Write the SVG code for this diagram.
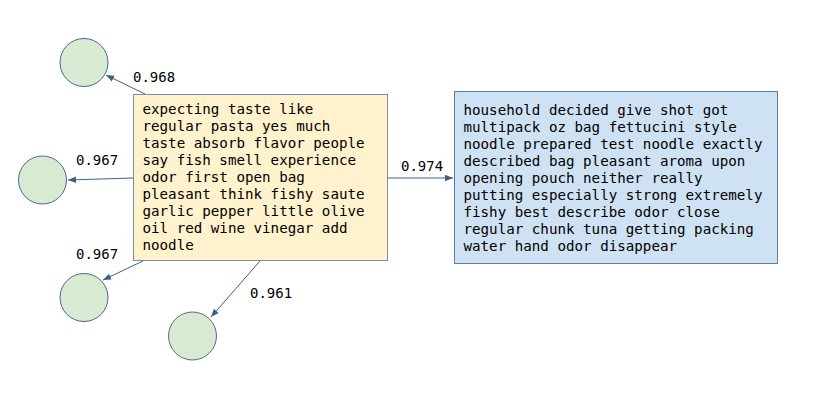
<svg xmlns="http://www.w3.org/2000/svg" width="813" height="401" viewBox="0 0 813 401">
<defs>
<style>
.t{font-family:"DejaVu Sans Mono","Liberation Mono",monospace;font-size:14.2px;fill:#000}
.lbl{font-family:"DejaVu Sans Mono","Liberation Mono",monospace;font-size:14px;fill:#000}
.c{fill:#d9ead3;stroke:#4a6a8a;stroke-width:1}
.e{stroke:#3f5f8a;stroke-width:1;fill:none;marker-end:url(#ah)}
</style>
<marker id="ah" viewBox="0 0 10 10" refX="10" refY="5" markerWidth="8" markerHeight="8" markerUnits="userSpaceOnUse" orient="auto">
<path d="M0,1 L10,5 L0,9 z" fill="#3f5f8a"/>
</marker>
</defs>
<rect width="813" height="401" fill="#fff"/>
<g id="connectors">
<line class="e" x1="145" y1="94" x2="106" y2="75"/>
<line class="e" x1="133" y1="178" x2="68" y2="180"/>
<line class="e" x1="145" y1="260" x2="103" y2="280"/>
<line class="e" x1="260" y1="261" x2="211" y2="317"/>
<line class="e" x1="388" y1="178" x2="453" y2="178"/>
<text class="lbl" x="133" y="82">0.968</text>
<text class="lbl" x="76" y="165">0.967</text>
<text class="lbl" x="76" y="259">0.967</text>
<text class="lbl" x="250" y="298">0.961</text>
<text class="lbl" x="401" y="171">0.974</text>
</g>
<g id="src">
<rect x="133.5" y="94.5" width="254" height="166" fill="#fff2cc" stroke="#7f8ea3"/>
<text class="t" x="142.5" y="114">expecting taste like</text>
<text class="t" x="142.5" y="131">regular pasta yes much</text>
<text class="t" x="142.5" y="148">taste absorb flavor people</text>
<text class="t" x="142.5" y="165">say fish smell experience</text>
<text class="t" x="142.5" y="182">odor first open bag</text>
<text class="t" x="142.5" y="199">pleasant think fishy saute</text>
<text class="t" x="142.5" y="216">garlic pepper little olive</text>
<text class="t" x="142.5" y="233">oil red wine vinegar add</text>
<text class="t" x="142.5" y="250">noodle</text>
</g>
<g id="dst">
<rect x="454.5" y="91.5" width="323" height="172" fill="#cfe2f3" stroke="#5b7ea6"/>
<text class="t" x="463.5" y="115">household decided give shot got</text>
<text class="t" x="463.5" y="132">multipack oz bag fettucini style</text>
<text class="t" x="463.5" y="149">noodle prepared test noodle exactly</text>
<text class="t" x="463.5" y="166">described bag pleasant aroma upon</text>
<text class="t" x="463.5" y="183">opening pouch neither really</text>
<text class="t" x="463.5" y="200">putting especially strong extremely</text>
<text class="t" x="463.5" y="217">fishy best describe odor close</text>
<text class="t" x="463.5" y="234">regular chunk tuna getting packing</text>
<text class="t" x="463.5" y="251">water hand odor disappear</text>
</g>
<g id="n1"><circle class="c" cx="84" cy="62.5" r="24"/></g>
<g id="n2"><circle class="c" cx="42.5" cy="180" r="24"/></g>
<g id="n3"><circle class="c" cx="84" cy="297.5" r="24"/></g>
<g id="n4"><circle class="c" cx="192.5" cy="336" r="24"/></g>
</svg>
